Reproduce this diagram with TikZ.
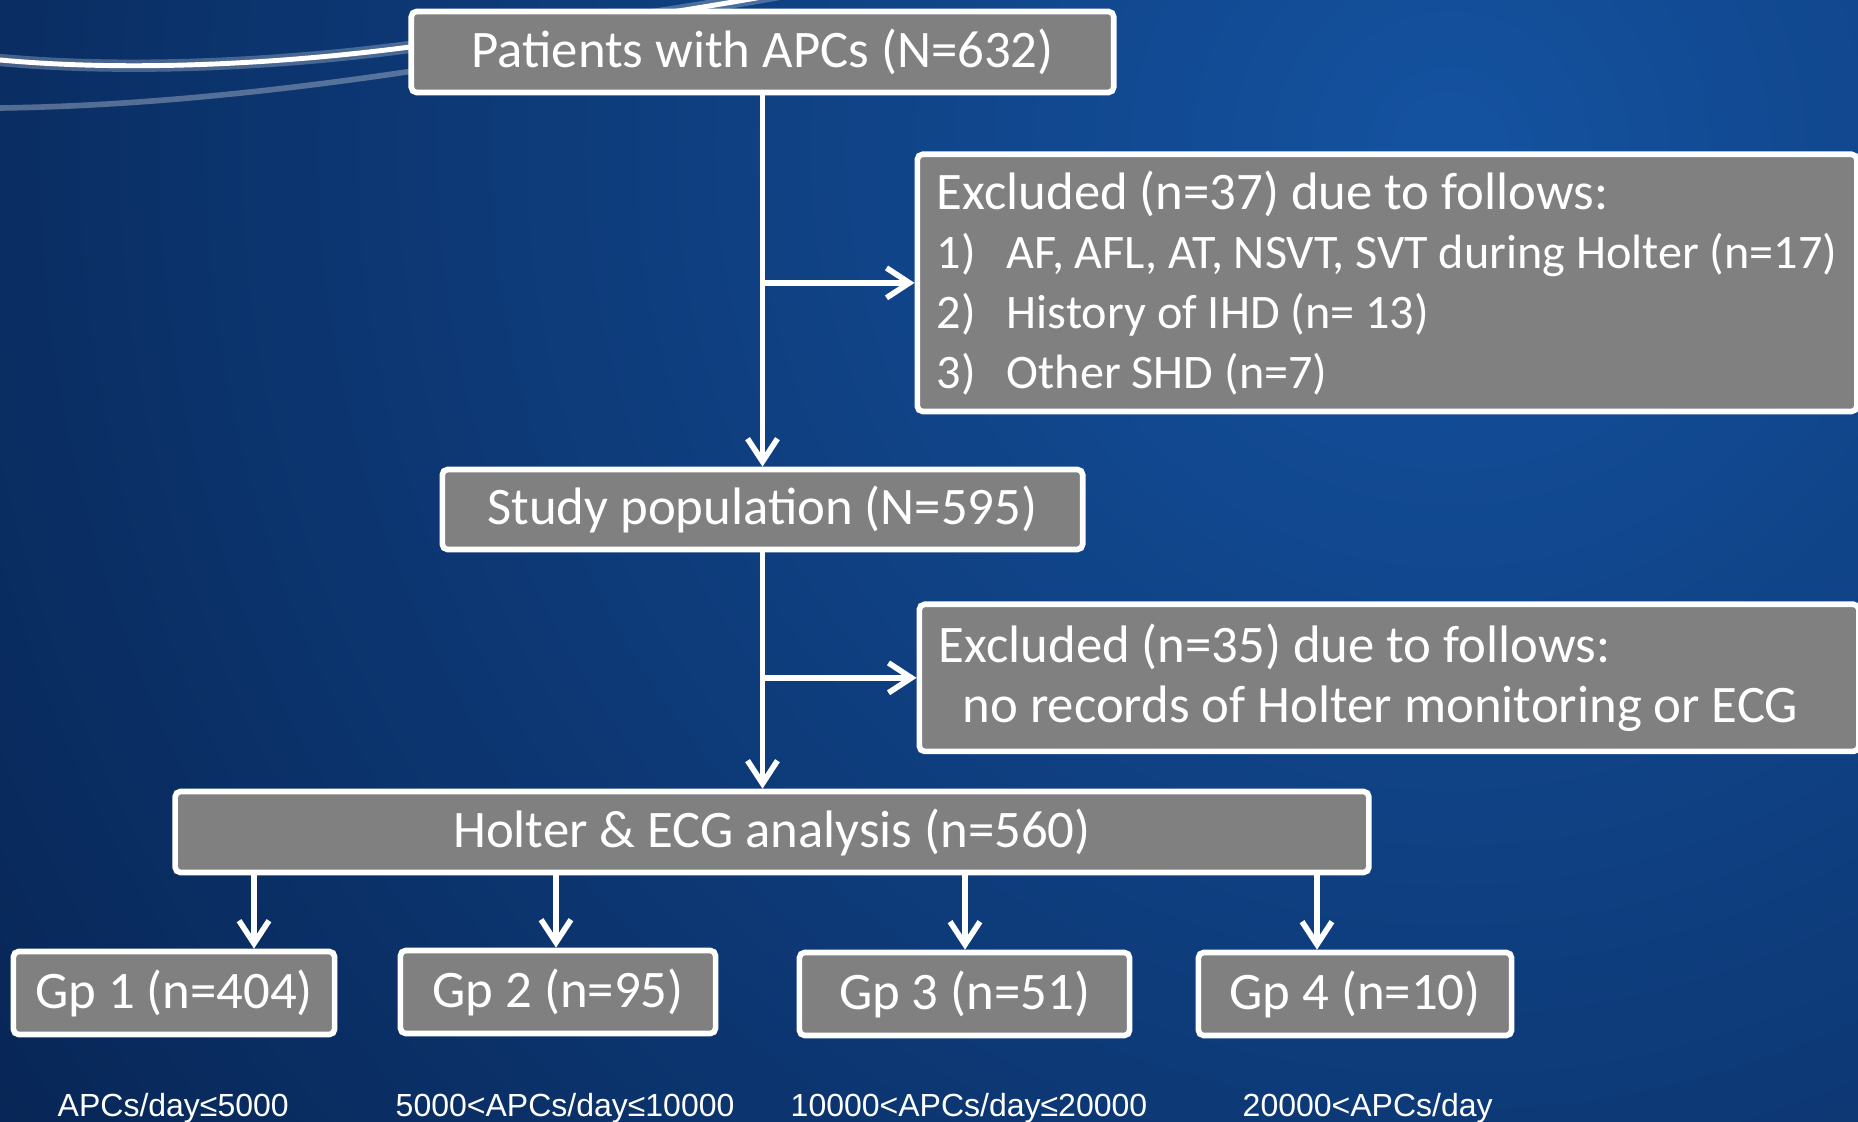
\documentclass[tikz,border=0pt]{standalone}
\usepackage{fontspec}
\setmainfont{Carlito}
\newfontfamily\rangefont{Liberation Sans}
\usetikzlibrary{arrows.meta, positioning, calc}

\definecolor{boxgray}{RGB}{128,128,128}
\definecolor{bglight}{RGB}{20,82,160}
\definecolor{bgdark}{RGB}{1,14,46}

\newcommand{\listsize}{\fontsize{13.7}{17}\selectfont}

\begin{document}
\frenchspacing
\begin{tikzpicture}[
    x=0.01cm, y=-0.01cm,
    every node/.style = {font=\fontsize{15}{17}\selectfont, text=white},
    box/.style = {
        rectangle,
        rounded corners=1.5pt,
        draw=white,
        line width=1.6pt,
        fill=boxgray,
        inner sep=0pt,
        align=center
    },
    exbox/.style = {
        box,
        anchor=north west,
        align=flush left,
        inner xsep=0.195cm,
        text width=9.0cm
    },
    arr/.style = {
        -{Straight Barb[length=6.5pt,width=8.5pt]},
        line width=1.6pt,
        color=white
    },
    rng/.style = {
        anchor=base west,
        inner sep=0pt,
        font=\rangefont\fontsize{9.1}{11}\selectfont
    },
    streak/.style = {
        white,
        line cap=round
    }
]

%% Background
\begin{scope}
    \clip (0,0) rectangle (1858,1122);
    \fill[bgdark] (0,0) rectangle (1858,1122);
    \shade[inner color=bglight, outer color=bgdark] (1450,150) circle[radius=27cm];
    %% light streaks
    \draw[streak, line width=3.5pt, opacity=0.25]
        (0,60) .. controls (130,72) and (280,64) .. (410,47)
               .. controls (560,30) and (680,12) .. (790,-8);
    \draw[streak, line width=1.4pt]
        (0,60) .. controls (130,72) and (280,64) .. (410,47)
               .. controls (560,30) and (680,12) .. (790,-8);
    \draw[streak, line width=1.6pt, opacity=0.3]
        (0,108) .. controls (150,106) and (300,88) .. (420,70);
\end{scope}
\useasboundingbox (0,0) rectangle (1858,1122);

%% Main column
\node[box, minimum width=7.02cm, minimum height=0.81cm]
    (pat) at (762.5,52) {Patients with APCs (N=632)};
\node[box, minimum width=6.40cm, minimum height=0.80cm]
    (study) at (762.5,509.5) {Study population (N=595)};
\node[box, minimum width=11.93cm, minimum height=0.81cm]
    (holter) at (772,832) {Holter \& ECG analysis (n=560)};

%% Exclusion boxes
\node[exbox, minimum width=9.39cm, minimum height=2.57cm]
    (excl1) at (914.5,151.5)
    {Excluded (n=37) due to follows:\\
     \listsize\makebox[0.70cm][l]{1)}AF, AFL, AT, NSVT, SVT during Holter (n=17)\\
     \makebox[0.70cm][l]{2)}History of IHD (n= 13)\\
     \makebox[0.70cm][l]{3)}Other SHD (n=7)};
\node[exbox, minimum width=9.37cm, minimum height=1.47cm]
    (excl2) at (916.5,601.5)
    {Excluded (n=35) due to follows:\\
     \hspace*{0.24cm}no records of Holter monitoring or ECG};

%% Groups
\node[box, minimum width=3.21cm, minimum height=0.83cm] (gp1) at (174,993)   {Gp 1 (n=404)};
\node[box, minimum width=3.15cm, minimum height=0.83cm] (gp2) at (558,992)   {Gp 2 (n=95)};
\node[box, minimum width=3.30cm, minimum height=0.83cm] (gp3) at (964.5,994) {Gp 3 (n=51)};
\node[box, minimum width=3.13cm, minimum height=0.83cm] (gp4) at (1355,994)  {Gp 4 (n=10)};

%% Ranges below the groups
\node[rng] (r1) at (57,1116)   {APCs/day≤5000};
\node[rng] (r2) at (395,1116)  {5000<APCs/day≤10000};
\node[rng] (r3) at (790,1116)  {10000<APCs/day≤20000};
\node[rng] (r4) at (1242,1116) {20000<APCs/day};

%% Arrows
\draw[arr] (pat) -- (study);
\draw[arr] (study.south) -- (study.south |- holter.north);
\draw[arr] (pat.south |- excl1.west) -- (excl1.west);
\draw[arr] (study.south |- excl2.west) -- (excl2.west);
\foreach \g/\xx in {1/254, 2/556, 3/965, 4/1317} {
    \coordinate (a\g) at (\xx,0);
    \draw[arr] (holter.south -| a\g) -- (gp\g.north -| a\g);
}

\end{tikzpicture}
\end{document}
